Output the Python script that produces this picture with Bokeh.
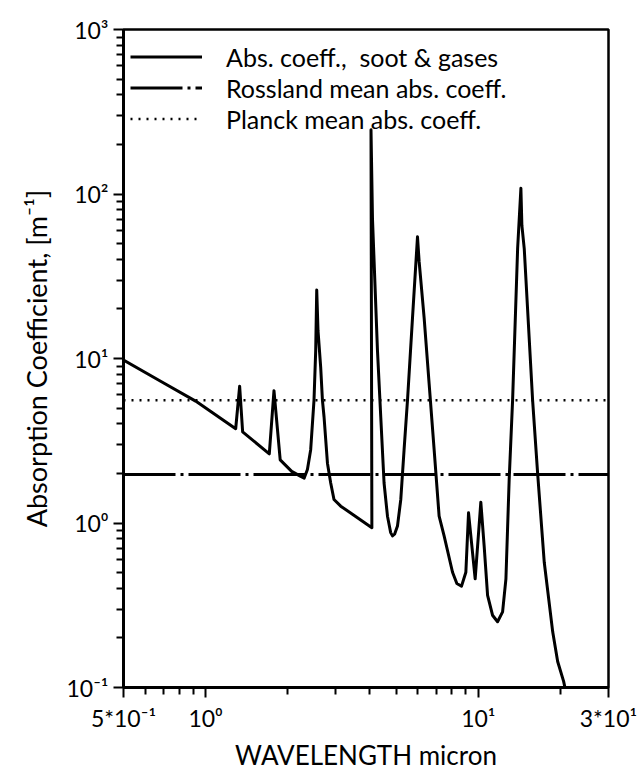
from bokeh.plotting import figure
from bokeh.models import FixedTicker, Legend, LegendItem
from bokeh.embed import file_html
from bokeh.resources import INLINE

# ---- data ----
wavelength = [0.5, 0.684, 0.919, 1.289, 1.333, 1.367, 1.712, 1.781, 1.877, 2.068,
              2.232, 2.299, 2.362, 2.428, 2.497, 2.533, 2.555, 2.583, 2.642, 2.681,
              2.718, 2.797, 2.875, 2.956, 3.129, 4.07, 4.04, 4.091, 4.267, 4.387,
              4.511, 4.643, 4.77, 4.843, 4.93, 5.052, 5.195, 5.342, 5.498, 5.735,
              5.982, 6.065, 6.327, 6.600, 6.884, 7.180, 7.489, 8.041, 8.34, 8.676,
              8.998, 9.204, 9.734, 10.21, 10.50, 10.81, 11.27, 11.76, 12.27, 12.62,
              12.97, 13.35, 13.93, 14.32, 14.44, 14.73, 15.81, 16.49, 17.44, 18.73,
              19.53, 20.54, 20.77]
abs_coeff = [9.8, 7.27, 5.51, 3.74, 6.78, 3.58, 2.63, 6.37, 2.42, 2.06,
             1.92, 1.875, 2.115, 2.79, 5.58, 11.17, 26.1, 14.75, 8.83, 5.58,
             4.41, 2.31, 1.75, 1.39, 1.266, 0.937, 246, 70.7, 11.17, 4.41,
             1.75, 1.10, 0.874, 0.835, 0.855, 0.959, 1.39, 2.79, 5.58, 17.66,
             54.9, 38.9, 17.66, 7.00, 2.79, 1.10, 0.835, 0.502, 0.429, 0.413,
             0.502, 1.153, 0.458, 1.338, 0.727, 0.363, 0.275, 0.251, 0.288, 0.458,
             1.833, 5.56, 46.6, 108.2, 64.4, 46.6, 5.56, 2.01, 0.577, 0.218,
             0.144, 0.109, 0.1]

x_span = [0.5, 30]
rosseland_mean = [1.97, 1.97]
planck_mean = [5.58, 5.58]

legend_labels = ["Abs. coeff.,  soot & gases",
                 "Rossland mean abs. coeff.",
                 "Planck mean abs. coeff."]

x_major = [0.5, 1, 10, 30]
x_minor = [0.6, 0.7, 0.8, 0.9, 2, 3, 4, 5, 6, 7, 8, 9, 20]
x_labels = {0.5: "5*10⁻¹", 1: "10⁰", 10: "10¹", 30: "3*10¹"}
y_major = [0.1, 1, 10, 100, 1000]
y_minor = ([0.2, 0.3, 0.4, 0.5, 0.6, 0.7, 0.8, 0.9] + [2, 3, 4, 5, 6, 7, 8, 9] +
           [20, 30, 40, 50, 60, 70, 80, 90] + [200, 300, 400, 500, 600, 700, 800, 900])
y_labels = {0.1: "10⁻¹", 1: "10⁰", 10: "10¹", 100: "10²", 1000: "10³"}

FONT = "Lato"

p = figure(width=644, height=773, x_axis_type="log", y_axis_type="log",
           x_range=(0.5, 30), y_range=(0.1, 1000),
           output_backend="svg", toolbar_location=None,
           min_border_left=123, min_border_right=36, min_border_top=29,
           min_border_bottom=80)
p.grid.visible = False
p.background_fill_color = "white"
p.border_fill_color = "white"
p.outline_line_color = "black"
p.outline_line_width = 2.5

p.xaxis.ticker = FixedTicker(ticks=x_major, minor_ticks=x_minor)
p.yaxis.ticker = FixedTicker(ticks=y_major, minor_ticks=y_minor)
p.xaxis.major_label_overrides = x_labels
p.yaxis.major_label_overrides = y_labels

for ax in (p.xaxis, p.yaxis):
    ax.axis_line_width = 3
    ax.axis_line_color = "black"
    ax.major_tick_out = 10
    ax.major_tick_in = 0
    ax.minor_tick_out = 7
    ax.minor_tick_in = 0
    ax.major_tick_line_width = 2
    ax.minor_tick_line_width = 2
    ax.major_tick_line_color = "black"
    ax.minor_tick_line_color = "black"
    ax.major_label_text_font = FONT
    ax.major_label_text_font_size = "23px"
    ax.major_label_text_color = "black"
    ax.axis_label_text_font = FONT
    ax.axis_label_text_font_style = "normal"
    ax.axis_label_text_color = "black"

p.xaxis.axis_label = "WAVELENGTH micron"
p.xaxis.axis_label_text_font_size = "26px"
p.xaxis.major_label_standoff = 6
p.xaxis.axis_label_standoff = 4
p.yaxis.axis_label = "Absorption Coefficient, [m⁻¹]"
p.yaxis.axis_label_text_font_size = "27px"
p.yaxis.major_label_standoff = 5
p.yaxis.axis_label_standoff = 10

r_abs = p.line(wavelength, abs_coeff, line_color="black", line_width=3,
               line_join="round")
r_ross = p.line(x_span, rosseland_mean, line_color="black", line_width=3,
                line_dash="52 5 3 5")
r_planck = p.line(x_span, planck_mean, line_color="black", line_width=2.5,
                  line_dash="2 6")

legend = Legend(items=[LegendItem(label=legend_labels[0], renderers=[r_abs]),
                       LegendItem(label=legend_labels[1], renderers=[r_ross]),
                       LegendItem(label=legend_labels[2], renderers=[r_planck])],
                location=(7, 553), padding=0, margin=0, spacing=0,
                glyph_width=72, glyph_height=31, label_height=31,
                label_standoff=24, label_text_font=FONT,
                label_text_font_size="25px", label_text_color="black",
                border_line_color=None, background_fill_alpha=0)
p.add_layout(legend, "center")

open("out.html", "w").write(file_html(p, INLINE))
